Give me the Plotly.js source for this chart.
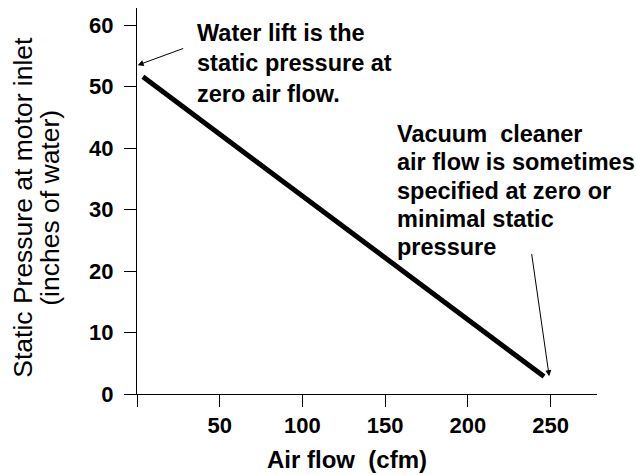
<!DOCTYPE html>
<html>
<head>
<meta charset="utf-8">
<script src="https://cdn.plot.ly/plotly-3.0.1.min.js"></script>
<style>html,body{margin:0;padding:0;background:#fff;}</style>
</head>
<body>
<div id="chart" style="width:636px;height:475px;"></div>
<script>
// Data
const airFlow = [3.6, 246];          // cfm
const staticPressure = [51.6, 2.85]; // inches of water

const xTickVals = [0, 50, 100, 150, 200, 250];
const xTickText = ["", "50", "100", "150", "200", "250"];
const yTickVals = [0, 10, 20, 30, 40, 50, 60];
const yTickText = ["0", "10", "20", "30", "40", "50", "60"];

const waterLiftLines = ["Water lift is the", "static pressure at", "zero air flow."];
const vacuumLines = ["Vacuum&nbsp;&nbsp;cleaner", "air flow is sometimes", "specified at zero or", "minimal static", "pressure"];
const yTitleLines = ["Static Pressure at motor inlet", "(inches of water)"];
const xTitle = "Air flow&nbsp;&nbsp;(cfm)";

const FONT = "Liberation Sans, Arial, Helvetica, sans-serif";

const trace = {
  x: airFlow,
  y: staticPressure,
  type: "scatter",
  mode: "lines",
  line: {color: "#000", width: 5},
  hoverinfo: "skip",
  showlegend: false
};

const annotations = [];
const waterY = [58.7, 53.8, 48.8];
waterLiftLines.forEach((t, i) => annotations.push({
  text: t, x: 35.1, y: waterY[i], xref: "x", yref: "y",
  xanchor: "left", yanchor: "middle", showarrow: false,
  font: {family: FONT, size: 23.5, color: "#000", weight: "bold"}
}));
const vacY = [42.3, 37.7, 33.1, 28.5, 23.9];
vacuumLines.forEach((t, i) => annotations.push({
  text: t, x: 155.9, y: vacY[i], xref: "x", yref: "y",
  xanchor: "left", yanchor: "middle", showarrow: false,
  font: {family: FONT, size: 23.5, color: "#000", weight: "bold"}
}));
// arrows
annotations.push({
  text: "", x: 0.4, y: 53.5, ax: 28.8, ay: 56.3, axref: "x", ayref: "y",
  xref: "x", yref: "y", showarrow: true, arrowhead: 2, arrowsize: 1.2,
  arrowwidth: 1, arrowcolor: "#000", standoff: 0, startstandoff: 0
});
annotations.push({
  text: "", x: 249.1, y: 2.9, ax: 238.4, ay: 23.0, axref: "x", ayref: "y",
  xref: "x", yref: "y", showarrow: true, arrowhead: 2, arrowsize: 1.2,
  arrowwidth: 1, arrowcolor: "#000", standoff: 0, startstandoff: 0
});
// y axis title (two lines)
annotations.push({
  text: yTitleLines[0], xref: "paper", yref: "y", x: 0, y: 30.3,
  xanchor: "center", yanchor: "middle", xshift: -114, textangle: -90,
  showarrow: false, font: {family: FONT, size: 26.5, color: "#000"}
});
annotations.push({
  text: yTitleLines[1], xref: "paper", yref: "y", x: 0, y: 30.3,
  xanchor: "center", yanchor: "middle", xshift: -87, textangle: -90,
  showarrow: false, font: {family: FONT, size: 26.5, color: "#000"}
});
// x axis title
annotations.push({
  text: xTitle, xref: "x", yref: "paper", x: 127.2, y: 0,
  xanchor: "center", yanchor: "middle", yshift: -65,
  showarrow: false, font: {family: FONT, size: 24, color: "#000", weight: "bold"}
});

const layout = {
  width: 636, height: 475,
  margin: {l: 137, r: 39, t: 8, b: 81, pad: 0},
  paper_bgcolor: "#fff", plot_bgcolor: "#fff",
  showlegend: false,
  font: {family: FONT, color: "#000"},
  xaxis: {
    range: [0, 278], showgrid: false, zeroline: false,
    showline: true, linecolor: "#000", linewidth: 1,
    ticks: "outside", ticklen: 12, tickcolor: "#000", tickwidth: 1,
    tickmode: "array", tickvals: xTickVals, ticktext: xTickText,
    tickfont: {family: FONT, size: 22, color: "#000", weight: "bold"},
    ticklabelstandoff: 0, fixedrange: true
  },
  yaxis: {
    range: [0, 62.8], showgrid: false, zeroline: false,
    showline: true, linecolor: "#000", linewidth: 1,
    ticks: "outside", ticklen: 12, tickcolor: "#000", tickwidth: 1,
    tickmode: "array", tickvals: yTickVals, ticktext: yTickText,
    tickfont: {family: FONT, size: 22, color: "#000", weight: "bold"},
    ticklabelstandoff: 6, fixedrange: true
  },
  annotations: annotations
};

Plotly.newPlot("chart", [trace], layout, {displayModeBar: false, staticPlot: true});
</script>
</body>
</html>
